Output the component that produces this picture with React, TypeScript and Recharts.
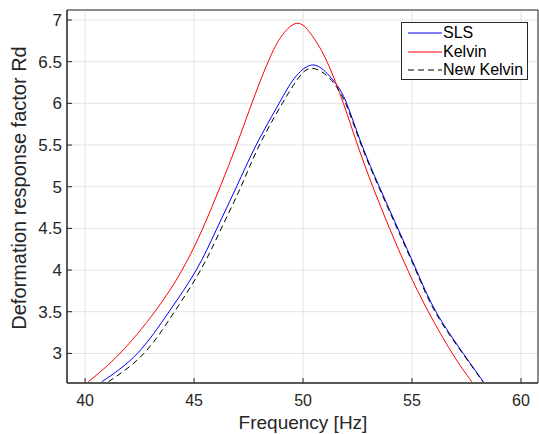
import React from "react";
import {
  LineChart,
  Line,
  XAxis,
  YAxis,
  CartesianGrid,
  Legend,
  ReferenceArea,
} from "recharts";

// values
const slsFreq = [40.77, 42.4, 43.85, 45.1, 46.05, 46.95, 47.85, 48.9, 49.6, 50.4, 51.1, 51.55, 52.0, 52.7, 53.5, 54.35, 55.2, 56.1, 57.35, 58.27];
const slsRd = [2.66, 3.0, 3.5, 4.0, 4.5, 5.0, 5.5, 6.0, 6.3, 6.46, 6.36, 6.22, 6.0, 5.5, 5.0, 4.5, 4.0, 3.5, 3.0, 2.66];

const kelvinFreq = [40.15, 41.6, 43.2, 44.45, 45.4, 46.2, 46.95, 47.65, 48.4, 49.05, 49.78, 50.45, 51.1, 51.85, 52.5, 53.2, 53.97, 54.8, 55.75, 56.85, 57.74];
const kelvinRd = [2.66, 3.0, 3.5, 4.0, 4.5, 5.0, 5.5, 6.0, 6.5, 6.82, 6.96, 6.8, 6.5, 6.0, 5.5, 5.0, 4.5, 4.0, 3.5, 3.0, 2.66];

const newKelvinFreq = [41.07, 42.7, 44.1, 45.3, 46.25, 47.15, 48.0, 49.05, 49.72, 50.35, 51.1, 51.55, 52.0, 52.7, 53.5, 54.35, 55.2, 56.1, 57.35, 58.25];
const newKelvinRd = [2.66, 3.0, 3.5, 4.0, 4.5, 5.0, 5.5, 6.0, 6.28, 6.42, 6.33, 6.19, 5.97, 5.48, 4.98, 4.48, 3.98, 3.48, 2.99, 2.66];

const xTicks = [40, 45, 50, 55, 60];
const yTicks = [3, 3.5, 4, 4.5, 5, 5.5, 6, 6.5, 7];

const xDomain = [39.17, 60.78];
const yDomain = [2.645, 7.12];

const toPoints = (f: number[], rd: number[]) => f.map((v, i) => ({ f: v, rd: rd[i] }));

const sls = toPoints(slsFreq, slsRd);
const kelvin = toPoints(kelvinFreq, kelvinRd);
const newKelvin = toPoints(newKelvinFreq, newKelvinRd);

const series = [
  { name: "SLS", color: "#0000ff", dash: undefined },
  { name: "Kelvin", color: "#ff0000", dash: undefined },
  { name: "New Kelvin", color: "#000000", dash: "6 4" },
];

const FONT = "'Liberation Sans', Arial, sans-serif";
const AXIS = "#262626";

const LegendBox = () => (
  <div
    style={{
      width: 127,
      height: 58,
      border: "1px solid #262626",
      background: "#fff",
      boxSizing: "border-box",
      padding: "1px 0 0 6px",
      fontFamily: FONT,
      fontSize: 16,
      color: "#000",
    }}
  >
    {series.map((s) => (
      <div key={s.name} style={{ display: "flex", alignItems: "center", height: 18.5 }}>
        <svg width={34} height={10} style={{ marginRight: 1 }}>
          <line x1={0} y1={5} x2={34} y2={5} stroke={s.color} strokeWidth={1} strokeDasharray={s.dash} />
        </svg>
        <span>{s.name}</span>
      </div>
    ))}
  </div>
);

export default function App() {
  return (
    <div style={{ position: "absolute", left: 0, top: 0, background: "#fff" }}>
      <LineChart width={539} height={434} margin={{ top: 10, right: 1, bottom: 0, left: 0 }}>
        <CartesianGrid stroke="#e3e3e3" strokeWidth={1} />
        <XAxis
          dataKey="f"
          type="number"
          domain={xDomain}
          allowDataOverflow
          ticks={xTicks}
          height={51}
          stroke={AXIS}
          tickSize={-5}
          tickMargin={17}
          tick={{ fill: AXIS, fontSize: 16, fontFamily: FONT }}
          label={() => (
            <text x={303} y={428.5} textAnchor="middle" fill={AXIS} fontSize={19} fontFamily={FONT}>
              Frequency [Hz]
            </text>
          )}
        />
        <YAxis
          type="number"
          domain={yDomain}
          allowDataOverflow
          ticks={yTicks}
          width={67}
          stroke={AXIS}
          tickSize={-5}
          tickMargin={10}
          tick={{ fill: AXIS, fontSize: 17, fontFamily: FONT }}
          label={() => (
            <text
              x={19}
              y={188}
              transform="rotate(-90 19 188)"
              textAnchor="middle"
              dominantBaseline="central"
              fill={AXIS}
              fontSize={20}
              fontFamily={FONT}
            >
              Deformation response factor Rd
            </text>
          )}
        />
        <ReferenceArea
          x1={xDomain[0]}
          x2={xDomain[1]}
          y1={yDomain[0]}
          y2={yDomain[1]}
          fill="none"
          stroke={AXIS}
          strokeWidth={1}
          ifOverflow="visible"
        />
        <Line data={sls} dataKey="rd" name="SLS" type="natural" stroke="#0000ff" strokeWidth={1} dot={false} isAnimationActive={false} />
        <Line data={kelvin} dataKey="rd" name="Kelvin" type="natural" stroke="#ff0000" strokeWidth={1} dot={false} isAnimationActive={false} />
        <Line
          data={newKelvin}
          dataKey="rd"
          name="New Kelvin"
          type="natural"
          stroke="#000000"
          strokeWidth={1}
          strokeDasharray="6 4"
          dot={false}
          isAnimationActive={false}
        />
        <Legend
          layout="vertical"
          align="center"
          verticalAlign="middle"
          content={() => <LegendBox />}
          wrapperStyle={{ position: "absolute", top: 22, left: 401, width: 127, height: 58 }}
        />
      </LineChart>
    </div>
  );
}
